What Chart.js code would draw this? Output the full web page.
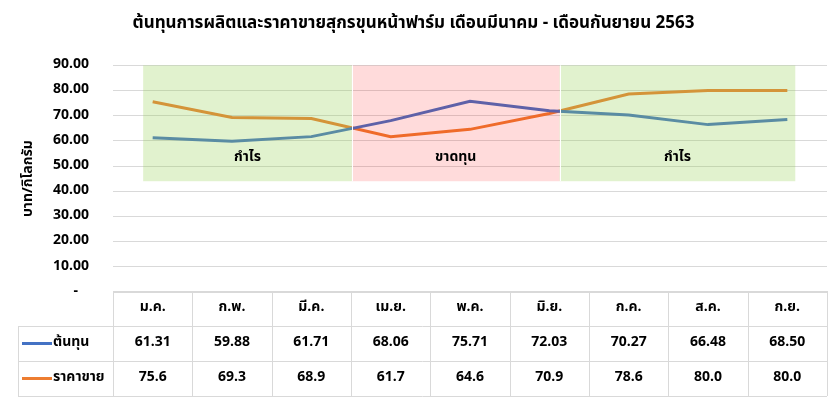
<!DOCTYPE html>
<html lang="th">
<head>
  <meta charset="UTF-8" />
  <title>ต้นทุนการผลิตและราคาขายสุกรขุนหน้าฟาร์ม</title>
  <script src="https://cdn.jsdelivr.net/npm/chart.js@4.4.1/dist/chart.umd.min.js"></script>
  <style>
    html, body {margin: 0; padding: 0; background: #fff;}
    #wrap {width: 834px; height: 398px;}
  </style>
</head>
<body>
  <div id="wrap"><canvas id="myChart" width="834" height="398"></canvas></div>

  <script>
    const FONT = "'Noto Sans Thai', Tahoma, 'Leelawadee UI', 'DejaVu Sans', sans-serif";

    // data
    const months = ["ม.ค.", "ก.พ.", "มี.ค.", "เม.ย.", "พ.ค.", "มิ.ย.", "ก.ค.", "ส.ค.", "ก.ย."];
    const costValues = [61.31, 59.88, 61.71, 68.06, 75.71, 72.03, 70.27, 66.48, 68.50];
    const priceValues = [75.6, 69.3, 68.9, 61.7, 64.6, 70.9, 78.6, 80.0, 80.0];
    const seriesNames = ["ต้นทุน", "ราคาขาย"];
    const yTicks = [0, 10, 20, 30, 40, 50, 60, 70, 80, 90];

    // shaded bands (in category index units) with their labels
    const zoneFrom = [-0.12, 2.51, 5.13];
    const zoneTo = [2.51, 5.13, 8.10];
    const zoneLabels = ["กำไร", "ขาดทุน", "กำไร"];
    const zoneColors = ["rgba(146,208,80,0.28)", "rgba(255,0,0,0.14)", "rgba(146,208,80,0.28)"];

    const blue = "#4472C4";
    const orange = "#ED7D31";

    // semi-transparent bands drawn over the lines, like the original
    const zonesPlugin = {
      id: "zones",
      afterDatasetsDraw(chart) {
        const {ctx, scales: {x, y}} = chart;
        const top = y.getPixelForValue(90);
        const bottom = y.getPixelForValue(44);
        ctx.save();
        zoneFrom.forEach((from, i) => {
          const x0 = x.getPixelForValue(from);
          const x1 = x.getPixelForValue(zoneTo[i]);
          ctx.fillStyle = zoneColors[i];
          ctx.fillRect(x0, top, x1 - x0, bottom - top);
          ctx.fillStyle = "#000";
          ctx.font = "bold 14px " + FONT;
          ctx.textAlign = "center";
          ctx.textBaseline = "middle";
          ctx.fillText(zoneLabels[i], (x0 + x1) / 2, y.getPixelForValue(53.2));
        });
        // thin white separators between bands
        ctx.strokeStyle = "#fff";
        ctx.lineWidth = 1;
        [2.51, 5.13].forEach(v => {
          const px = Math.round(x.getPixelForValue(v)) + 0.5;
          ctx.beginPath(); ctx.moveTo(px, top); ctx.lineTo(px, bottom); ctx.stroke();
        });
        ctx.restore();
      }
    };

    // data table under the plot
    const tablePlugin = {
      id: "dataTable",
      afterDraw(chart) {
        const {ctx, chartArea, scales: {x}} = chart;
        const rowH = 35;
        const top = chartArea.bottom - 1;
        const colW = (chartArea.right - chartArea.left) / months.length;
        const left = chartArea.left;
        const right = chartArea.right;
        const keyLeft = 18;
        ctx.save();
        ctx.strokeStyle = "#d9d9d9";
        ctx.lineWidth = 1;
        const hl = (x0, x1, yy) => {
          ctx.beginPath(); ctx.moveTo(x0, Math.round(yy) + 0.5); ctx.lineTo(x1, Math.round(yy) + 0.5); ctx.stroke();
        };
        const vl = (xx, y0, y1) => {
          ctx.beginPath(); ctx.moveTo(Math.round(xx) + 0.5, y0); ctx.lineTo(Math.round(xx) + 0.5, y1); ctx.stroke();
        };
        hl(left, right, top);
        hl(keyLeft, right, top + rowH);
        hl(keyLeft, right, top + 2 * rowH);
        hl(keyLeft, right, top + 3 * rowH);
        vl(keyLeft, top + rowH, top + 3 * rowH);
        for (let i = 0; i <= months.length; i++) {
          vl(left + i * colW, top, top + 3 * rowH);
        }

        ctx.fillStyle = "#000";
        ctx.textAlign = "center";
        ctx.textBaseline = "middle";
        ctx.font = "bold 14px " + FONT;
        months.forEach((m, i) => {
          const cx = x.getPixelForValue(i);
          ctx.fillText(m, cx, top + rowH / 2);
          ctx.fillText(costValues[i].toFixed(2), cx, top + rowH * 1.5);
          ctx.fillText(priceValues[i].toFixed(1), cx, top + rowH * 2.5);
        });

        // legend keys
        const keyColors = [blue, orange];
        seriesNames.forEach((name, r) => {
          const cy = top + rowH * (r + 1.5);
          ctx.strokeStyle = keyColors[r];
          ctx.lineWidth = 3;
          ctx.beginPath(); ctx.moveTo(22, cy); ctx.lineTo(52, cy); ctx.stroke();
          ctx.textAlign = "left";
          ctx.fillText(name, 53, cy);
        });
        ctx.restore();
      }
    };

    new Chart(document.getElementById("myChart").getContext("2d"), {
      type: "line",
      data: {
        labels: months,
        datasets: [
          {label: seriesNames[0], data: costValues, borderColor: blue, backgroundColor: blue, borderWidth: 3, pointRadius: 0, tension: 0},
          {label: seriesNames[1], data: priceValues, borderColor: orange, backgroundColor: orange, borderWidth: 3, pointRadius: 0, tension: 0}
        ]
      },
      options: {
        responsive: false,
        animation: false,
        layout: {padding: {left: 0, right: 7, top: 0, bottom: 106}},
        plugins: {
          legend: {display: false},
          tooltip: {enabled: false},
          title: {
            display: true,
            text: "ต้นทุนการผลิตและราคาขายสุกรขุนหน้าฟาร์ม เดือนมีนาคม - เดือนกันยายน 2563",
            color: "#000",
            font: {family: FONT, size: 17, weight: "bold"},
            padding: {top: 14, bottom: 31}
          }
        },
        scales: {
          x: {display: false, offset: true},
          y: {
            min: 0, max: 90,
            afterBuildTicks: (s) => { s.ticks = yTicks.map(v => ({value: v})); },
            afterFit: (s) => { s.width = 113; },
            border: {display: false},
            grid: {color: "#d9d9d9", drawTicks: false},
            ticks: {
              color: "#000",
              padding: 24,
              font: {family: FONT, size: 14, weight: "bold"},
              callback: (v) => v === 0 ? "-   " : v.toFixed(2)
            },
            title: {
              display: true,
              text: "บาท/กิโลกรัม",
              color: "#000",
              font: {family: FONT, size: 14, weight: "bold"},
              padding: {top: 21, bottom: 0}
            }
          }
        }
      },
      plugins: [zonesPlugin, tablePlugin]
    });
  </script>
</body>
</html>
